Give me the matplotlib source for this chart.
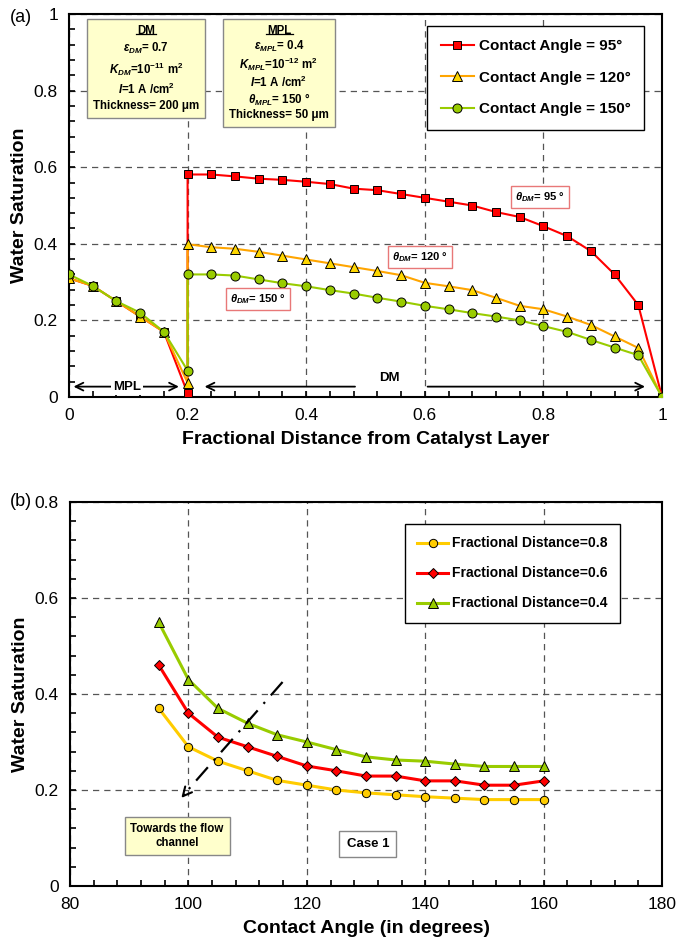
import matplotlib
matplotlib.use("Agg")
import matplotlib.pyplot as plt
from matplotlib.ticker import MultipleLocator, FuncFormatter

plt.rcParams['font.family'] = ['Liberation Sans', 'DejaVu Sans']
plt.rcParams['mathtext.fontset'] = 'custom'
plt.rcParams['mathtext.rm'] = 'Liberation Sans:bold'
plt.rcParams['mathtext.it'] = 'Liberation Sans:italic:bold'
plt.rcParams['mathtext.bf'] = 'Liberation Sans:bold'

# ---- panel (a) data ----
frac_dist = [0, 0.04, 0.08, 0.12, 0.16, 0.2, 0.2, 0.24, 0.28, 0.32, 0.36, 0.40, 0.44,
             0.48, 0.52, 0.56, 0.60, 0.64, 0.68, 0.72, 0.76, 0.80, 0.84, 0.88,
             0.92, 0.96, 1.0]
sat_95 = [0.31, 0.29, 0.25, 0.21, 0.17, 0.01, 0.581, 0.581, 0.576, 0.57, 0.567, 0.562,
          0.556, 0.544, 0.54, 0.53, 0.52, 0.51, 0.50, 0.483, 0.47, 0.446, 0.42,
          0.381, 0.32, 0.24, 0.0]
sat_120 = [0.31, 0.29, 0.25, 0.21, 0.17, 0.037, 0.399, 0.391, 0.387, 0.379, 0.369, 0.359,
           0.349, 0.339, 0.329, 0.318, 0.298, 0.289, 0.279, 0.259, 0.238, 0.229,
           0.21, 0.188, 0.158, 0.128, 0.0]
sat_150 = [0.32, 0.29, 0.25, 0.22, 0.17, 0.069, 0.32, 0.32, 0.317, 0.307, 0.297, 0.289,
           0.279, 0.27, 0.259, 0.249, 0.238, 0.229, 0.219, 0.21, 0.20, 0.185,
           0.17, 0.149, 0.129, 0.109, 0.0]

# ---- panel (b) data ----
angles = [95, 100, 105, 110, 115, 120, 125, 130, 135, 140, 145, 150, 155, 160]
sat_d08 = [0.37, 0.29, 0.26, 0.24, 0.22, 0.21, 0.20, 0.194, 0.19, 0.186, 0.183, 0.18, 0.18, 0.18]
sat_d06 = [0.46, 0.36, 0.31, 0.29, 0.27, 0.25, 0.24, 0.229, 0.229, 0.219, 0.219, 0.21, 0.21, 0.219]
sat_d04 = [0.549, 0.43, 0.37, 0.339, 0.315, 0.30, 0.284, 0.269, 0.2625, 0.26, 0.254, 0.249, 0.249, 0.249]

RED = '#FF0000'
ORANGE = '#FFA500'
YELLOW = '#FFD700'
GREEN = '#99CC00'
BOXFILL = '#FFFFCC'

fig = plt.figure(figsize=(6.79, 9.49), dpi=100)
ax1 = fig.add_axes([0.1016, 0.5817, 0.8734, 0.4035])
ax2 = fig.add_axes([0.1031, 0.0664, 0.8720, 0.4046])

plain = FuncFormatter(lambda v, p: f'{v:g}')


def style_axes(ax):
    for s in ax.spines.values():
        s.set_linewidth(1.5)
        s.set_color('black')
    ax.tick_params(which='both', direction='in', top=False, right=False,
                   labelsize=12.5, width=1.2)
    ax.tick_params(which='major', length=4, pad=8)
    ax.tick_params(which='minor', length=4)
    ax.grid(True, which='major', linestyle=(0, (5, 4)), color='#555555', linewidth=0.9)
    ax.set_axisbelow(True)
    ax.xaxis.set_major_formatter(plain)
    ax.yaxis.set_major_formatter(plain)


# ---------------- panel (a) ----------------
ax1.plot(frac_dist, sat_95, color=RED, lw=1.5, marker='s', ms=6, mfc=RED,
         mec='black', mew=0.7, label='Contact Angle = 95°', zorder=3)
ax1.plot(frac_dist, sat_120, color=ORANGE, lw=1.5, marker='^', ms=6.5, mfc=YELLOW,
         mec='black', mew=0.7, label='Contact Angle = 120°', zorder=3)
ax1.plot(frac_dist, sat_150, color=GREEN, lw=1.5, marker='o', ms=6.5, mfc=GREEN,
         mec='black', mew=0.7, label='Contact Angle = 150°', zorder=3)

ax1.set_xlim(0, 1)
ax1.set_ylim(0, 1)
ax1.xaxis.set_major_locator(MultipleLocator(0.2))
ax1.xaxis.set_minor_locator(MultipleLocator(0.04))
ax1.yaxis.set_major_locator(MultipleLocator(0.2))
ax1.yaxis.set_minor_locator(MultipleLocator(0.04))
style_axes(ax1)
ax1.set_xlabel('Fractional Distance from Catalyst Layer', fontsize=14,
               fontweight='bold', labelpad=6)
ax1.set_ylabel('Water Saturation', fontsize=14, fontweight='bold', labelpad=4)

leg1 = ax1.legend(loc='upper right', bbox_to_anchor=(0.983, 0.99), fancybox=False,
                  edgecolor='black', framealpha=1, labelspacing=1.15, borderpad=0.9,
                  handlelength=2.2, handletextpad=0.3, prop={'weight': 'bold', 'size': 11})
leg1.get_frame().set_linewidth(1.0)

box_kw = dict(boxstyle='square,pad=0.5', fc=BOXFILL, ec='#888888', lw=1)
dm_text = ("DM\n" r"$\epsilon_{DM}$= 0.7" "\n" r"$K_{DM}$=10$^{-11}$ m$^{2}$" "\n"
           r"$I$=1 A /cm$^{2}$" "\n" "Thickness= 200 μm")
mpl_text = ("MPL\n" r"$\epsilon_{MPL}$= 0.4" "\n" r"$K_{MPL}$=10$^{-12}$ m$^{2}$" "\n"
            r"$I$=1 A /cm$^{2}$" "\n" r"$\theta_{MPL}$= 150 °" "\n" "Thickness= 50 μm")
ax1.text(0.13, 0.972, dm_text, ha='center', va='top', fontsize=8.3, fontweight='bold',
         linespacing=1.35, bbox=box_kw, zorder=5)
ax1.text(0.354, 0.972, mpl_text, ha='center', va='top', fontsize=8.3, fontweight='bold',
         linespacing=1.15, bbox=box_kw, zorder=5)
ax1.plot([0.113, 0.147], [0.947, 0.947], color='black', lw=0.9, zorder=6)
ax1.plot([0.332, 0.377], [0.947, 0.947], color='black', lw=0.9, zorder=6)

theta_kw = dict(boxstyle='square,pad=0.35', fc='white', ec='#E87878', lw=1)
ax1.text(0.794, 0.522, r"$\theta_{DM}$= 95 °", ha='center', va='center', fontsize=8,
         fontweight='bold', bbox=theta_kw, zorder=5)
ax1.text(0.592, 0.366, r"$\theta_{DM}$= 120 °", ha='center', va='center', fontsize=8,
         fontweight='bold', bbox=theta_kw, zorder=5)
ax1.text(0.319, 0.256, r"$\theta_{DM}$= 150 °", ha='center', va='center', fontsize=8,
         fontweight='bold', bbox=theta_kw, zorder=5)

arrow_kw = dict(arrowstyle='<->', color='black', lw=1.3, mutation_scale=14)
ax1.annotate('', xy=(0.19, 0.027), xytext=(0.003, 0.027), arrowprops=arrow_kw)
ax1.text(0.098, 0.027, 'MPL', ha='center', va='center', fontsize=9.5, fontweight='bold',
         bbox=dict(fc='white', ec='none', pad=1.5))
ax1.annotate('', xy=(0.224, 0.027), xytext=(0.487, 0.027),
             arrowprops=dict(arrowstyle='->', color='black', lw=1.3, mutation_scale=14))
ax1.annotate('', xy=(0.976, 0.027), xytext=(0.6, 0.027),
             arrowprops=dict(arrowstyle='->', color='black', lw=1.3, mutation_scale=14))
ax1.text(0.54, 0.05, 'DM', ha='center', va='center', fontsize=9.5, fontweight='bold')

fig.text(0.015, 0.982, '(a)', fontsize=13, va='center')

# ---------------- panel (b) ----------------
ax2.plot(angles, sat_d08, color='#FFCC00', lw=2.2, marker='o', ms=6, mfc='#FFCC00',
         mec='black', mew=0.7, label='Fractional Distance=0.8', zorder=3)
ax2.plot(angles, sat_d06, color=RED, lw=2.2, marker='D', ms=5, mfc=RED,
         mec='black', mew=0.7, label='Fractional Distance=0.6', zorder=3)
ax2.plot(angles, sat_d04, color=GREEN, lw=2.2, marker='^', ms=6.5, mfc=GREEN,
         mec='black', mew=0.7, label='Fractional Distance=0.4', zorder=3)

ax2.set_xlim(80, 180)
ax2.set_ylim(0, 0.8)
ax2.xaxis.set_major_locator(MultipleLocator(20))
ax2.xaxis.set_minor_locator(MultipleLocator(4))
ax2.yaxis.set_major_locator(MultipleLocator(0.2))
ax2.yaxis.set_minor_locator(MultipleLocator(0.04))
style_axes(ax2)
ax2.set_xlabel('Contact Angle (in degrees)', fontsize=14, fontweight='bold', labelpad=6)
ax2.set_ylabel('Water Saturation', fontsize=14, fontweight='bold', labelpad=4)

leg2 = ax2.legend(loc='upper right', bbox_to_anchor=(0.941, 0.961), fancybox=False,
                  edgecolor='black', framealpha=1, labelspacing=1.15, borderpad=0.9,
                  handlelength=2.2, handletextpad=0.3, prop={'weight': 'bold', 'size': 10})
leg2.get_frame().set_linewidth(1.0)

ax2.plot([115.9, 99.2], [0.425, 0.19], color='black', lw=1.6, linestyle=(0, (8, 4, 1, 4)),
         zorder=4)
ax2.annotate('', xy=(98.5, 0.179), xytext=(99.6, 0.195),
             arrowprops=dict(arrowstyle='->', color='black', lw=1.5, mutation_scale=16),
             zorder=4)
ax2.text(98.1, 0.104, 'Towards the flow\nchannel', ha='center', va='center', fontsize=8.3,
         fontweight='bold', linespacing=1.3,
         bbox=dict(boxstyle='square,pad=0.5', fc=BOXFILL, ec='#888888', lw=1), zorder=5)
ax2.text(130.3, 0.0875, 'Case 1', ha='center', va='center', fontsize=9.5, fontweight='bold',
         bbox=dict(boxstyle='square,pad=0.55', fc='white', ec='#888888', lw=1), zorder=5)

fig.text(0.015, 0.472, '(b)', fontsize=13, va='center')

fig.savefig('out.png', dpi=100)
